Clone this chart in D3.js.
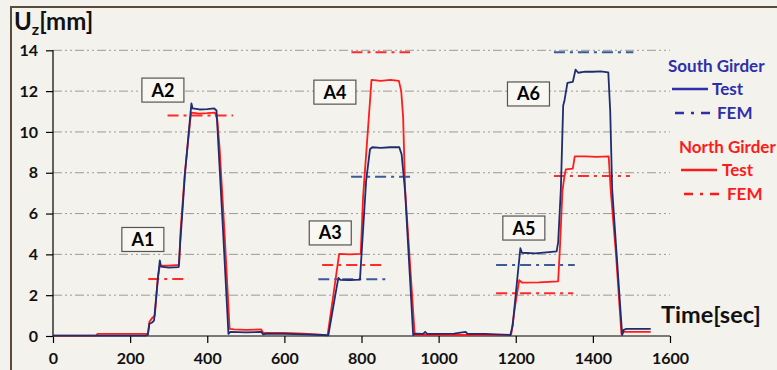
<!DOCTYPE html>
<html>
<head>
<meta charset="utf-8">
<script src="https://cdn.jsdelivr.net/npm/d3@7"></script>
<style>
  html, body { margin: 0; padding: 0; background: #f3f2ec; }
  svg { display: block; }
  text { font-family: Lato, "Liberation Sans", sans-serif; font-weight: bold; }
</style>
</head>
<body>
<svg id="chart" width="777" height="370"></svg>
<script>
// Measured vertical displacement U_z under six load cases (A1..A6)
const southTestT = [0,240,246,250,256,262,272,277,280,300,326,330,336,342,356,359,362,380,400,418,424,440,455,460,500,540,545,555,600,650,700,714,722,732,740,745,770,796,812,822,828,850,875,898,904,913,934,940,960,965,970,1000,1040,1070,1075,1120,1150,1186,1192,1205,1212,1216,1250,1280,1306,1310,1317,1323,1326,1334,1348,1355,1362,1380,1400,1420,1440,1445,1450,1476,1480,1487,1520,1550];
const southTestU = [0.02,0.02,0.05,0.6,0.65,0.75,2.8,3.7,3.4,3.35,3.38,4.6,6.2,7.9,10.8,11.4,11.15,11.1,11.12,11.15,11.05,5.5,0.1,0.2,0.18,0.2,0.08,0.12,0.1,0.08,0.05,0.03,0.9,2.0,2.85,2.75,2.74,2.76,7.6,9.15,9.25,9.22,9.25,9.25,8.9,7.1,0.05,0.12,0.1,0.2,0.1,0.1,0.12,0.2,0.1,0.1,0.08,0.05,0.5,3.0,4.3,4.08,4.05,4.1,4.15,4.6,7.2,11.3,11.5,12.4,12.45,13.05,12.9,12.95,12.95,12.97,12.92,11.0,7.2,0.05,0.3,0.35,0.35,0.35];

const northTestT = [0,112,115,200,246,250,258,264,272,277,300,327,331,342,356,359,380,400,420,426,432,445,458,470,500,540,545,600,650,700,712,727,742,770,798,804,826,850,875,897,903,908,913,938,960,1000,1100,1188,1198,1209,1216,1260,1310,1315,1321,1326,1330,1348,1353,1380,1410,1441,1446,1460,1474,1480,1520,1550];
const northTestU = [0.02,0.02,0.1,0.1,0.1,0.7,0.9,1.0,2.9,3.45,3.45,3.48,5.2,8.0,10.6,10.95,10.9,10.92,10.95,10.6,9.2,5.0,0.35,0.32,0.3,0.32,0.15,0.15,0.12,0.05,0.03,2.0,4.02,4.0,4.02,6.8,12.55,12.5,12.55,12.5,12.0,10.7,7.2,0.05,0.05,0.05,0.05,0.05,1.44,2.74,2.62,2.63,2.68,4.5,7.1,7.8,8.17,8.2,8.8,8.8,8.78,8.8,7.2,4.0,0.1,0.2,0.2,0.2];

// FEM predictions per load case (start/end time of the plateau, displacement)
const loadCases = ["A1","A2","A3","A4","A5","A6"];
const southFemU     = [null, null, 2.78, 7.8, 3.48, 13.9];
const southFemStart = [null, null, 688, 773, 1149, 1299];
const southFemEnd   = [null, null, 863, 930, 1353, 1505];
const northFemU     = [2.79, 10.8, 3.48, 13.9, 2.09, 7.84];
const northFemStart = [247, 297, 698, 774, 1149, 1299];
const northFemEnd   = [351, 467, 852, 926, 1349, 1496];

const xTicks = [0,200,400,600,800,1000,1200,1400,1600];
const yTicks = [0,2,4,6,8,10,12,14];

const svg = d3.select("#chart");
const x = d3.scaleLinear().domain([0,1600]).range([53,670]);
const y = d3.scaleLinear().domain([0,14]).range([336,50.3]);

const navy = "#1f2d6e", red = "#ff1c1c", femBlue = "#3b5a98", femRed = "#ff2a2a";
const legendBlue = "#2f2fa8";
const femDash = "11,5,3,5";

// frame
svg.append("rect").attr("x",0).attr("y",0).attr("width",777).attr("height",370).attr("fill","#f3f2ec");
svg.append("path").attr("d","M11,380 L11,7 L790,7").attr("fill","none").attr("stroke","#5c4b3b").attr("stroke-width",2);

// grid
svg.append("g").selectAll("line").data(yTicks.filter(d => d > 0)).join("line")
  .attr("x1", x(0)).attr("x2", x(1600))
  .attr("y1", d => y(d)).attr("y2", d => y(d))
  .attr("stroke","#9a9a9a").attr("stroke-width",1)
  .attr("stroke-dasharray","9,3,2,3,2,3");

// axes
const yAxis = svg.append("g").attr("transform",`translate(${x(0)},0)`)
  .call(d3.axisLeft(y).tickValues(yTicks).tickSize(7).tickPadding(8).tickFormat(d3.format("d")));
const xAxis = svg.append("g").attr("transform",`translate(0,${y(0)})`)
  .call(d3.axisBottom(x).tickValues(xTicks).tickSize(7).tickPadding(10).tickFormat(d3.format("d")));
[yAxis, xAxis].forEach(a => {
  a.select(".domain").attr("stroke","#000").attr("stroke-width",1.2);
  a.selectAll(".tick line").attr("stroke","#000").attr("stroke-width",1.2);
  a.selectAll("text").attr("fill","#111").style("font-size","16px").style("font-family","Lato, sans-serif").style("font-weight","bold");
});
yAxis.select(".domain").attr("d", `M0,${y(14)}V${y(0)}`);
xAxis.select(".domain").attr("d", `M${x(0)},0H${x(1600)}`);

// FEM dash-dot segments
function femSegments(us, t0, t1, color) {
  const rows = loadCases.map((c,i) => ({u:us[i], a:t0[i], b:t1[i]})).filter(r => r.u != null);
  svg.append("g").selectAll("line").data(rows).join("line")
    .attr("x1", r => x(r.a)).attr("x2", r => x(r.b))
    .attr("y1", r => y(r.u)).attr("y2", r => y(r.u))
    .attr("stroke", color).attr("stroke-width", 2).attr("stroke-dasharray", femDash);
}
femSegments(southFemU, southFemStart, southFemEnd, femBlue);
femSegments(northFemU, northFemStart, northFemEnd, femRed);

// measured curves
const line = d3.line().x(d => x(d[0])).y(d => y(d[1]));
svg.append("path").datum(d3.zip(northTestT, northTestU)).attr("d", line)
  .attr("fill","none").attr("stroke",red).attr("stroke-width",1.8).attr("stroke-linejoin","round");
svg.append("path").datum(d3.zip(southTestT, southTestU)).attr("d", line)
  .attr("fill","none").attr("stroke",navy).attr("stroke-width",1.8).attr("stroke-linejoin","round");

// load case tags
const tagAt = [[233,4.73],[285,12.05],[719,5.05],[731,11.95],[1221,5.29],[1233,11.86]];
const tags = svg.append("g").selectAll("g").data(loadCases).join("g")
  .attr("transform", (c,i) => `translate(${x(tagAt[i][0])},${y(tagAt[i][1])})`);
tags.append("rect").attr("x",-21).attr("y",-12).attr("width",42).attr("height",24)
  .attr("fill","#f8f7f2").attr("stroke","#555").attr("stroke-width",1.2);
tags.append("text").attr("text-anchor","middle").attr("dy","0.36em")
  .style("font-size","18px").attr("fill","#000").text(c => c);

// axis titles
const yt = svg.append("text").attr("x",14).attr("y",30).attr("fill","#111").style("font-size","24px");
yt.append("tspan").text("U");
yt.append("tspan").attr("dy",5).style("font-size","16px").text("z");
yt.append("tspan").attr("dy",-5).text("[mm]");
svg.append("text").attr("x",661).attr("y",323).attr("fill","#111").style("font-size","23.5px").text("Time[sec]");

// legend
const lg = svg.append("g");
lg.append("text").attr("x",668).attr("y",72).attr("fill",legendBlue).style("font-size","17px").text("South Girder");
lg.append("line").attr("x1",672).attr("x2",708).attr("y1",89).attr("y2",89).attr("stroke",legendBlue).attr("stroke-width",2.5);
lg.append("text").attr("x",712).attr("y",95).attr("fill",legendBlue).style("font-size","17px").text("Test");
lg.append("line").attr("x1",675).attr("x2",710).attr("y1",113).attr("y2",113).attr("stroke",legendBlue).attr("stroke-width",2.5).attr("stroke-dasharray","9,7,3,7");
lg.append("text").attr("x",717).attr("y",119).attr("fill",legendBlue).style("font-size","17px").text("FEM");
lg.append("text").attr("x",679).attr("y",153).attr("fill","#ff1a1a").style("font-size","17px").text("North Girder");
lg.append("line").attr("x1",681).attr("x2",717).attr("y1",170).attr("y2",170).attr("stroke","#ff1a1a").attr("stroke-width",2.5);
lg.append("text").attr("x",722).attr("y",176).attr("fill","#ff1a1a").style("font-size","17px").text("Test");
lg.append("line").attr("x1",684).attr("x2",720).attr("y1",194).attr("y2",194).attr("stroke","#ff1a1a").attr("stroke-width",2.5).attr("stroke-dasharray","9,7,3,7");
lg.append("text").attr("x",727).attr("y",200).attr("fill","#ff1a1a").style("font-size","17px").text("FEM");
</script>
</body>
</html>
